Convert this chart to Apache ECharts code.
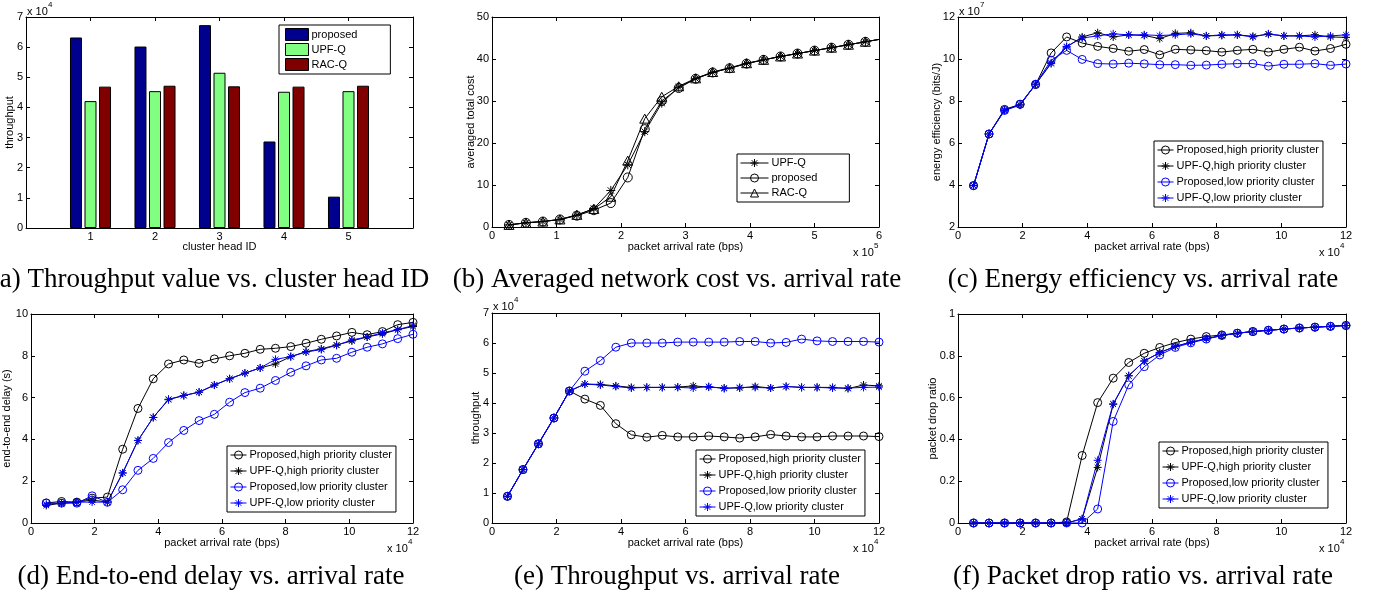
<!DOCTYPE html>
<html>
<head>
<meta charset="utf-8">
<script src="https://cdn.jsdelivr.net/npm/echarts@6/dist/echarts.min.js"></script>
<style>
html, body { margin: 0; padding: 0; background: #fff; }
#wrap { position: relative; width: 1374px; height: 597px; overflow: hidden; }
.panel { position: absolute; left: 0; top: 0; width: 1374px; height: 597px; }
</style>
</head>
<body>
<div id="wrap">
    <div class="panel" id="pa"></div>
    <div class="panel" id="pb"></div>
    <div class="panel" id="pc"></div>
    <div class="panel" id="pd"></div>
    <div class="panel" id="pe"></div>
    <div class="panel" id="pf"></div>
</div>
<script>
// (a) throughput per cluster head (x 10^4)
var headIds = [1, 2, 3, 4, 5];
var thrProposed = [6.32, 6.02, 6.73, 2.87, 1.04];
var thrUpfQ = [4.21, 4.54, 5.15, 4.52, 4.54];
var thrRacQ = [4.69, 4.72, 4.70, 4.69, 4.72];

// (b) averaged total cost, arrival rate in x 10^5 bps
var costRate = [0.263, 0.526, 0.789, 1.053, 1.316, 1.579, 1.842, 2.105, 2.368, 2.632, 2.895, 3.158,
    3.421, 3.684, 3.947, 4.211, 4.474, 4.737, 5.0, 5.263, 5.526, 5.789, 6.053];
var costUpfQ = [0.5, 1.0, 1.3, 1.8, 2.8, 4.4, 8.7, 14.8, 22.7, 29.5, 33.3, 35.3,
    36.8, 37.8, 38.9, 39.8, 40.6, 41.3, 42.0, 42.7, 43.4, 44.1, 44.8];
var costProposed = [0.5, 1.0, 1.3, 1.8, 2.7, 4.0, 5.7, 11.8, 23.3, 30.0, 33.1, 35.3,
    36.8, 37.8, 38.9, 39.8, 40.6, 41.3, 42.0, 42.7, 43.4, 44.1, 44.8];
var costRacQ = [0.5, 1.0, 1.3, 1.8, 2.9, 4.3, 7.2, 15.8, 25.8, 31.0, 33.5, 35.4,
    36.9, 37.9, 39.0, 39.8, 40.6, 41.3, 42.0, 42.7, 43.4, 44.1, 44.8];

// (c)-(f) arrival rate in x 10^4 bps
var rate = [0.48, 0.96, 1.44, 1.92, 2.40, 2.88, 3.36, 3.84, 4.32, 4.80, 5.28, 5.76, 6.24,
    6.72, 7.20, 7.68, 8.16, 8.64, 9.12, 9.60, 10.08, 10.56, 11.04, 11.52, 12.0];

// (c) energy efficiency (x 10^7 bits/J)
var effPropHigh = [3.97, 6.43, 7.60, 7.84, 8.78, 10.29, 11.05, 10.76, 10.60, 10.50, 10.37, 10.45, 10.20,
    10.46, 10.43, 10.40, 10.33, 10.41, 10.46, 10.33, 10.46, 10.56, 10.38, 10.50, 10.70];
var effUpfHigh = [3.97, 6.43, 7.58, 7.82, 8.80, 9.78, 10.57, 11.05, 11.25, 11.05, 11.15, 11.12, 10.97,
    11.22, 11.25, 11.10, 11.12, 11.15, 11.08, 11.18, 11.10, 11.10, 11.15, 11.05, 11.03];
var effPropLow = [3.97, 6.43, 7.55, 7.85, 8.80, 9.94, 10.41, 9.98, 9.78, 9.76, 9.80, 9.77, 9.73,
    9.73, 9.70, 9.71, 9.75, 9.78, 9.78, 9.66, 9.75, 9.75, 9.78, 9.70, 9.76];
var effUpfLow = [3.97, 6.43, 7.55, 7.80, 8.80, 9.82, 10.60, 11.00, 11.10, 11.20, 11.15, 11.15, 11.12,
    11.15, 11.20, 11.10, 11.15, 11.15, 11.05, 11.20, 11.10, 11.10, 11.05, 11.10, 11.15];

// (d) end-to-end delay (s)
var delayPropHigh = [0.96, 1.03, 1.00, 1.19, 1.24, 3.53, 5.48, 6.90, 7.61, 7.80, 7.64, 7.85, 8.00,
    8.12, 8.31, 8.36, 8.44, 8.60, 8.79, 8.95, 9.12, 9.01, 9.16, 9.49, 9.60];
var delayUpfHigh = [0.84, 0.95, 1.00, 1.10, 1.00, 2.39, 3.95, 5.05, 5.92, 6.10, 6.26, 6.60, 6.90,
    7.17, 7.42, 7.61, 7.96, 8.20, 8.33, 8.52, 8.71, 8.90, 9.05, 9.25, 9.40];
var delayPropLow = [0.95, 0.95, 0.95, 1.30, 0.99, 1.59, 2.52, 3.09, 3.85, 4.43, 4.90, 5.20, 5.78,
    6.24, 6.45, 6.82, 7.21, 7.52, 7.80, 7.88, 8.17, 8.41, 8.57, 8.82, 9.03];
var delayUpfLow = [0.90, 0.95, 1.00, 1.00, 1.00, 2.40, 3.95, 5.05, 5.90, 6.10, 6.26, 6.60, 6.90,
    7.17, 7.42, 7.83, 7.96, 8.18, 8.30, 8.50, 8.76, 8.90, 9.10, 9.25, 9.45];

// (e) throughput (x 10^4)
var tputPropHigh = [0.89, 1.78, 2.64, 3.50, 4.40, 4.13, 3.92, 3.31, 2.94, 2.86, 2.92, 2.87, 2.87,
    2.90, 2.87, 2.83, 2.87, 2.95, 2.90, 2.87, 2.87, 2.90, 2.90, 2.90, 2.88];
var tputUpfHigh = [0.89, 1.78, 2.64, 3.50, 4.40, 4.63, 4.62, 4.57, 4.52, 4.52, 4.52, 4.53, 4.57,
    4.53, 4.50, 4.50, 4.55, 4.50, 4.55, 4.52, 4.52, 4.52, 4.48, 4.60, 4.57];
var tputPropLow = [0.89, 1.78, 2.64, 3.50, 4.40, 5.06, 5.41, 5.86, 6.00, 6.00, 6.00, 6.03, 6.03,
    6.03, 6.03, 6.05, 6.05, 6.00, 6.02, 6.13, 6.07, 6.05, 6.05, 6.05, 6.03];
var tputUpfLow = [0.89, 1.78, 2.64, 3.50, 4.40, 4.63, 4.60, 4.55, 4.50, 4.52, 4.52, 4.52, 4.50,
    4.55, 4.48, 4.52, 4.52, 4.50, 4.55, 4.52, 4.52, 4.50, 4.50, 4.52, 4.53];

// (f) packet drop ratio
var dropPropHigh = [0, 0, 0, 0, 0, 0, 0.005, 0.323, 0.576, 0.693, 0.768, 0.812, 0.840,
    0.863, 0.880, 0.892, 0.900, 0.908, 0.916, 0.922, 0.928, 0.933, 0.937, 0.941, 0.945];
var dropUpfHigh = [0, 0, 0, 0, 0, 0, 0, 0.020, 0.266, 0.568, 0.704, 0.775, 0.815,
    0.845, 0.865, 0.882, 0.897, 0.908, 0.916, 0.922, 0.928, 0.933, 0.937, 0.941, 0.945];
var dropPropLow = [0, 0, 0, 0, 0, 0, 0, 0, 0.067, 0.486, 0.661, 0.748, 0.804,
    0.840, 0.862, 0.880, 0.897, 0.908, 0.916, 0.922, 0.928, 0.933, 0.937, 0.941, 0.945];
var dropUpfLow = [0, 0, 0, 0, 0, 0, 0, 0.020, 0.300, 0.570, 0.705, 0.775, 0.815,
    0.845, 0.865, 0.882, 0.897, 0.908, 0.916, 0.922, 0.928, 0.933, 0.937, 0.941, 0.945];

var legendNames = ["Proposed,high priority cluster", "UPF-Q,high priority cluster",
    "Proposed,low priority cluster", "UPF-Q,low priority cluster"];

var FONT = "'Liberation Sans', Arial, sans-serif";
var SERIF = "'Liberation Serif', 'Times New Roman', serif";
var STAR = "path://M0,-5L0,5M-5,0L5,0M-3.5,-3.5L3.5,3.5M-3.5,3.5L3.5,-3.5";
var TRI = "path://M0,-5L5,4L-5,4Z";

function axisPair(posMain, posMirror, min, max, step, name, gap, fmt) {
    var base = {
        type: "value", min: min, max: max, interval: step,
        axisLine: { show: true, onZero: false, lineStyle: { color: "#000", width: 1 } },
        axisTick: { show: true, inside: true, length: 4, lineStyle: { color: "#000", width: 1 } },
        splitLine: { show: false }
    };
    var label = { color: "#000", fontSize: 11, fontFamily: FONT, margin: 3 };
    if (fmt) label.formatter = fmt;
    var main = Object.assign({}, base, {
        position: posMain, axisLabel: label,
        name: name, nameLocation: "middle", nameGap: gap, nameMoveOverlap: false,
        nameTextStyle: { color: "#000", fontSize: 11, fontFamily: FONT }
    });
    var mirror = Object.assign({}, base, { position: posMirror, axisLabel: { show: false } });
    return [main, mirror];
}

function lineSeries(name, xs, ys, col, mk, size) {
    return {
        name: name, type: "line",
        data: xs.map(function (x, i) { return [x, ys[i]]; }),
        symbol: mk, symbolSize: size || 8, symbolKeepAspect: true, showAllSymbol: true,
        lineStyle: { color: col, width: 1 },
        itemStyle: { color: "rgba(255,255,255,0)", borderColor: col, borderWidth: 1 },
        emphasis: { disabled: true },
        animation: false
    };
}

function legendBox(left, top, names, iw, ih, gap, padRight) {
    return {
        orient: "vertical", left: left, top: top, data: names,
        itemWidth: iw, itemHeight: ih, itemGap: gap,
        padding: [3, padRight || 4, 3, 3],
        borderColor: "#000", borderWidth: 1, backgroundColor: "#fff",
        selectedMode: false,
        lineStyle: { width: 1 },
        itemStyle: { borderWidth: 1 },
        textStyle: { color: "#000", fontSize: 11, fontFamily: FONT, lineHeight: 12, padding: [0, 0, 0, -2] }
    };
}

function expo(x, y, p) {
    return [
        { type: "text", x: x, y: y, style: { text: "x 10", fill: "#000", font: "11px " + FONT, verticalAlign: "middle" } },
        { type: "text", x: x + 21, y: y - 7, style: { text: p, fill: "#000", font: "8px " + FONT, verticalAlign: "middle" } }
    ];
}

function caption(cx, cy, txt) {
    return { type: "text", x: cx, y: cy, style: { text: txt, fill: "#000", font: "27px " + SERIF, align: "center", verticalAlign: "middle" } };
}

function fourSeries(a, b, c, d) {
    return [
        lineSeries(legendNames[0], rate, a, "#000", "circle", 8),
        lineSeries(legendNames[1], rate, b, "#000", STAR, 8),
        lineSeries(legendNames[2], rate, c, "#0000ff", "circle", 8),
        lineSeries(legendNames[3], rate, d, "#0000ff", STAR, 8)
    ];
}

function draw(id, option) {
    var chart = echarts.init(document.getElementById(id));
    chart.setOption(option);
}

// (a)
var legA = legendBox(279, 25, ["proposed", "UPF-Q", "RAC-Q"], 23, 12, 2, 33);
legA.icon = "rect";
legA.padding = [3, 33, 3, 6];
draw("pa", {
    animation: false,
    grid: { left: 26, top: 17, width: 387, height: 211 },
    xAxis: axisPair("bottom", "top", 0, 6, 1, "cluster head ID", 13, function (v) {
        return v >= 1 && v <= 5 ? v : "";
    }),
    yAxis: axisPair("left", "right", 0, 7, 1, "throughput", 11),
    legend: legA,
    series: [
        ["proposed", thrProposed, "#00008f"],
        ["UPF-Q", thrUpfQ, "#80ff80"],
        ["RAC-Q", thrRacQ, "#800000"]
    ].map(function (s) {
        return {
            name: s[0], type: "bar", barWidth: 12, barGap: "21%",
            data: headIds.map(function (x, i) { return [x, s[1][i]]; }),
            itemStyle: { color: s[2], borderColor: "#000", borderWidth: 1 },
            emphasis: { disabled: true }
        };
    }),
    graphic: expo(27, 12, "4").concat([caption(210, 280, "(a) Throughput value vs. cluster head ID")])
});

// (b)
draw("pb", {
    animation: false,
    grid: { left: 492, top: 17, width: 387, height: 210 },
    xAxis: axisPair("bottom", "top", 0, 6, 1, "packet arrival rate (bps)", 14),
    yAxis: axisPair("left", "right", 0, 50, 10, "averaged total cost", 16),
    legend: legendBox(737, 154, ["UPF-Q", "proposed", "RAC-Q"], 28, 10, 3, 32),
    series: [
        lineSeries("UPF-Q", costRate, costUpfQ, "#000", STAR, 9),
        lineSeries("proposed", costRate, costProposed, "#000", "circle", 9),
        lineSeries("RAC-Q", costRate, costRacQ, "#000", TRI, 10)
    ],
    graphic: expo(853, 253, "5").concat([caption(677, 280, "(b) Averaged network cost vs. arrival rate")])
});

// (c)
draw("pc", {
    animation: false,
    grid: { left: 958, top: 17, width: 388, height: 210 },
    xAxis: axisPair("bottom", "top", 0, 12, 2, "packet arrival rate (bps)", 14),
    yAxis: axisPair("left", "right", 2, 12, 2, "energy efficiency (bits/J)", 16),
    legend: legendBox(1154, 141, legendNames, 16, 10, 4),
    series: fourSeries(effPropHigh, effUpfHigh, effPropLow, effUpfLow),
    graphic: expo(959, 12, "7").concat(expo(1319, 253, "4"), [caption(1143, 280, "(c) Energy efficiency vs. arrival rate")])
});

// (d)
draw("pd", {
    animation: false,
    grid: { left: 26, top: 314, width: 387, height: 209 },
    xAxis: axisPair("bottom", "top", 0, 12, 2, "packet arrival rate (bps)", 14),
    yAxis: axisPair("left", "right", 0, 10, 2, "end-to-end delay (s)", 19),
    legend: legendBox(227, 446, legendNames, 16, 10, 4),
    series: fourSeries(delayPropHigh, delayUpfHigh, delayPropLow, delayUpfLow),
    graphic: expo(387, 549, "4").concat([caption(211, 577, "(d) End-to-end delay vs. arrival rate")])
});

// (e)
draw("pe", {
    animation: false,
    grid: { left: 492, top: 313, width: 387, height: 210 },
    xAxis: axisPair("bottom", "top", 0, 12, 2, "packet arrival rate (bps)", 14),
    yAxis: axisPair("left", "right", 0, 7, 1, "throughput", 11),
    legend: legendBox(696, 450, legendNames, 16, 10, 4),
    series: fourSeries(tputPropHigh, tputUpfHigh, tputPropLow, tputUpfLow),
    graphic: expo(493, 307, "4").concat(expo(853, 549, "4"), [caption(677, 577, "(e) Throughput vs. arrival rate")])
});

// (f)
draw("pf", {
    animation: false,
    grid: { left: 958, top: 314, width: 388, height: 209 },
    xAxis: axisPair("bottom", "top", 0, 12, 2, "packet arrival rate (bps)", 14),
    yAxis: axisPair("left", "right", 0, 1, 0.2, "packet drop ratio", 20),
    legend: legendBox(1159, 442, legendNames, 16, 10, 4),
    series: fourSeries(dropPropHigh, dropUpfHigh, dropPropLow, dropUpfLow),
    graphic: expo(1319, 549, "4").concat([caption(1143, 577, "(f) Packet drop ratio vs. arrival rate")])
});
</script>
</body>
</html>
